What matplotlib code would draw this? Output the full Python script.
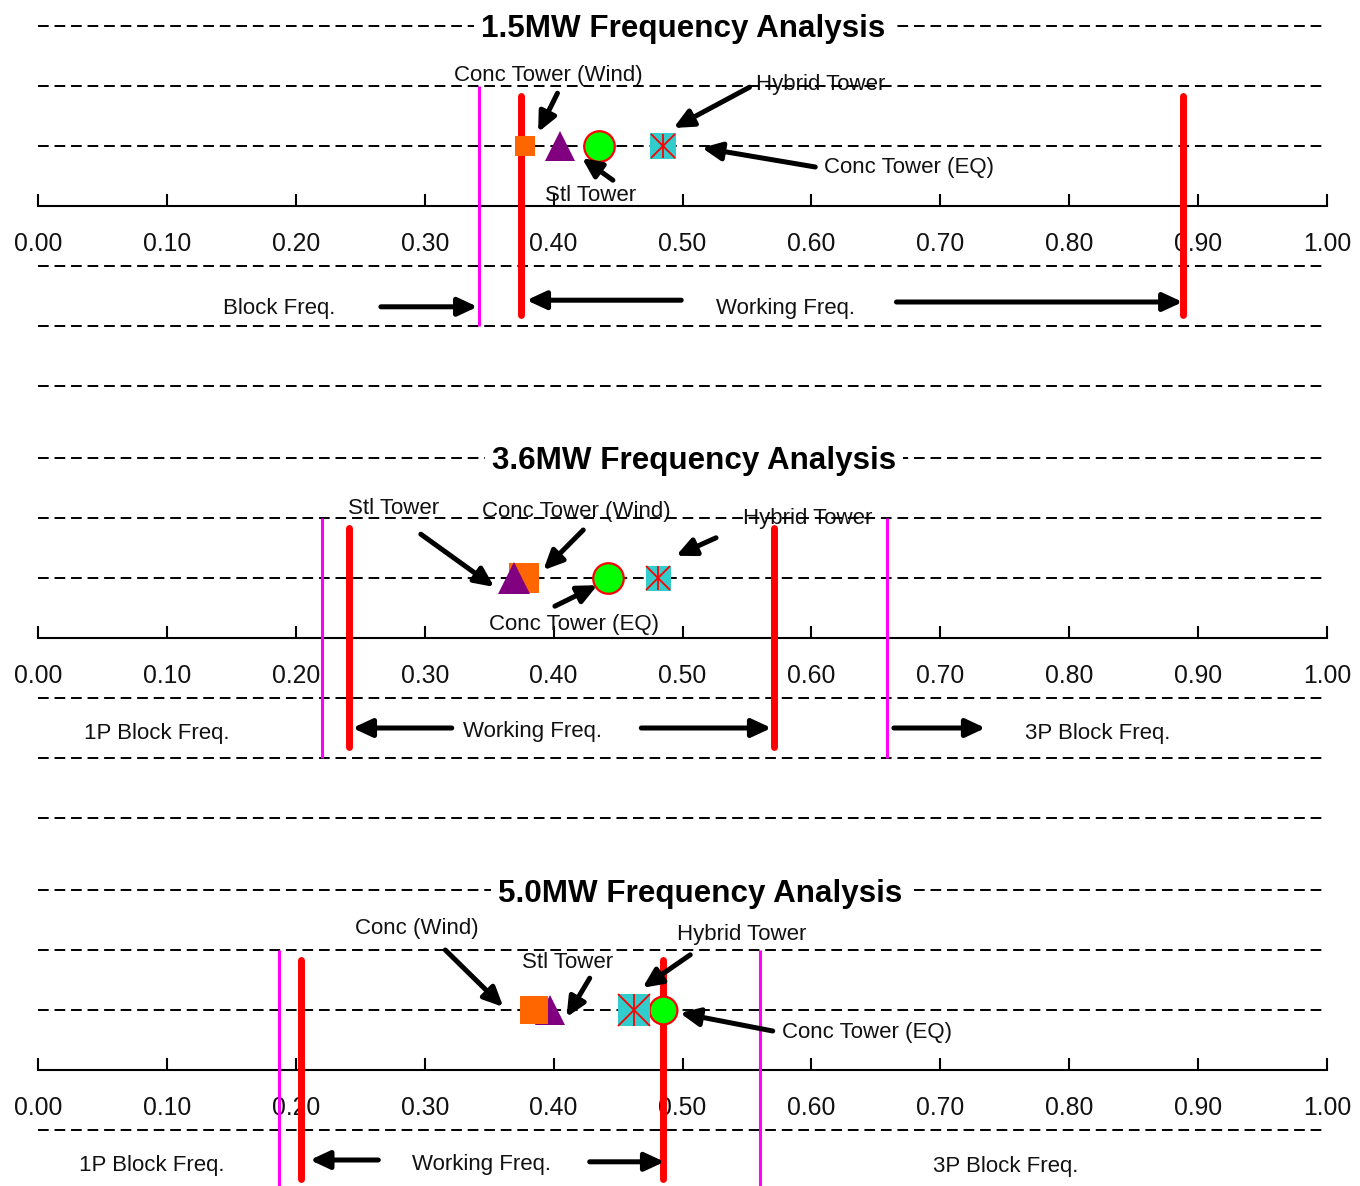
import matplotlib
matplotlib.use('Agg')
import matplotlib.pyplot as plt
import numpy as np
from matplotlib.patches import ArrowStyle

FONT = 'Liberation Sans'
FS_LAB, FS_TICK, FS_TITLE = 16, 17.8, 22.6

# ---- data ----
titles = ['1.5MW Frequency Analysis', '3.6MW Frequency Analysis', '5.0MW Frequency Analysis']
towers = ['Conc Tower (Wind)', 'Stl Tower', 'Conc Tower (EQ)', 'Hybrid Tower']

tower_freq_15 = [0.378, 0.405, 0.435, 0.485]
tower_freq_36 = [0.377, 0.369, 0.442, 0.481]
tower_freq_50 = [0.385, 0.397, 0.485, 0.462]

working_15 = [0.375, 0.888]
working_36 = [0.241, 0.571]
working_50 = [0.204, 0.485]

block_15 = [0.342]
block_36 = [0.220, 0.659]
block_50 = [0.187, 0.560]

ticks = np.arange(0, 1.001, 0.1)

# ---- layout (x in frequency units, y in rows of 60 px around the number line) ----
X0, X1 = -38 / 1289, 1322 / 1289
FIG_H = 1186
AXIS_PX = [206, 638, 1070]
ROW = 60.0

# marker sizes (pt) and draw order per panel, in towers order
sizes = [[14.5, 22, 22, 18.5], [21.5, 22.5, 22, 18], [20, 22, 20, 23.5]]
zorders = [[5, 5, 5, 5], [5, 6, 5, 5], [6, 5, 5, 7]]
title_x = [0.5005, 0.509, 0.5135]

notes = [
    [('Conc Tower (Wind)', 0.396, 2.22), ('Hybrid Tower', 0.607, 2.07), ('Stl Tower', 0.429, 0.22),
     ('Conc Tower (EQ)', 0.676, 0.68), ('Block Freq.', 0.187, -1.67), ('Working Freq.', 0.580, -1.67)],
    [('Stl Tower', 0.276, 2.2), ('Conc Tower (Wind)', 0.418, 2.15), ('Hybrid Tower', 0.597, 2.03),
     ('Conc Tower (EQ)', 0.416, 0.27), ('1P Block Freq.', 0.092, -1.55), ('Working Freq.', 0.384, -1.52),
     ('3P Block Freq.', 0.822, -1.55)],
    [('Conc (Wind)', 0.294, 2.4), ('Stl Tower', 0.411, 1.83), ('Hybrid Tower', 0.546, 2.3),
     ('Conc Tower (EQ)', 0.643, 0.67), ('1P Block Freq.', 0.088, -1.55), ('Working Freq.', 0.344, -1.53),
     ('3P Block Freq.', 0.751, -1.57)],
]

arrows = [
    [((0.403, 1.88), (0.388, 1.23)), ((0.552, 1.98), (0.493, 1.30)), ((0.446, 0.43), (0.422, 0.80)),
     ((0.603, 0.65), (0.515, 0.97)), ((0.266, -1.68), (0.341, -1.68)), ((0.499, -1.57), (0.379, -1.57)),
     ((0.666, -1.60), (0.888, -1.60))],
    [((0.297, 1.73), (0.354, 0.85)), ((0.423, 1.80), (0.392, 1.13)), ((0.526, 1.67), (0.495, 1.37)),
     ((0.401, 0.53), (0.434, 0.88)), ((0.321, -1.5), (0.244, -1.5)), ((0.468, -1.5), (0.569, -1.5)),
     ((0.664, -1.5), (0.735, -1.5))],
    [((0.316, 2.0), (0.361, 1.05)), ((0.428, 1.53), (0.410, 0.88)), ((0.506, 1.92), (0.469, 1.37)),
     ((0.570, 0.65), (0.498, 0.95)), ((0.264, -1.5), (0.211, -1.5)), ((0.428, -1.53), (0.486, -1.53))],
]

ARROW = ArrowStyle('-|>', head_length=0.58, head_width=0.27)


def draw_tower(ax, name, f, ms, z):
    if name == 'Conc Tower (Wind)':
        ax.plot(f, 1, 's', ms=ms, color='#FF6600', mew=0, zorder=z)
    elif name == 'Stl Tower':
        ax.plot(f, 1, '^', ms=ms, color='#800080', mew=0, zorder=z)
    elif name == 'Conc Tower (EQ)':
        ax.plot(f, 1, 'o', ms=ms, mfc='#00FF00', mec='red', mew=1.6, zorder=z)
    else:
        ax.plot(f, 1, 's', ms=ms, color='#33CCCC', mew=0, zorder=z)
        ax.plot(f, 1, 'x', ms=ms * 0.95, color='red', mew=1.3, zorder=z + 0.1)
        ax.plot(f, 1, '|', ms=ms * 0.95, color='red', mew=1.3, zorder=z + 0.1)


def draw_panel(ax, i, freqs, working, block):
    ax.set_xlim(X0, X1)
    ax.set_ylim(-3.6, 3.6)
    ax.patch.set_alpha(0)
    for s in ['top', 'left', 'right']:
        ax.spines[s].set_visible(False)
    sp = ax.spines['bottom']
    sp.set_position(('data', 0))
    sp.set_bounds(0, 1)
    sp.set_linewidth(1.5)
    ax.set_xticks(ticks)
    ax.set_xticklabels(['%.2f' % t for t in ticks], fontfamily=FONT, fontsize=FS_TICK, color='#111111')
    ax.tick_params(axis='x', direction='in', length=9, width=1.5, pad=19)
    ax.set_yticks([])

    ax.hlines([3, 2, 1, -1, -2, -3], 0, 1, colors='k', lw=1.4, linestyles=(0, (5.5, 3)), zorder=2.5)
    ax.vlines(block, -2, 2, colors='#FF00FF', lw=2.2, zorder=3)
    for w in working:
        ax.plot([w, w], [-1.82, 1.84], color='red', lw=5, solid_capstyle='round', zorder=3.5)

    for name, f, ms, z in zip(towers, freqs, sizes[i], zorders[i]):
        draw_tower(ax, name, f, ms, z)

    ax.text(title_x[i], 3, titles[i], ha='center', va='center_baseline', fontsize=FS_TITLE,
            fontweight='bold', family=FONT, zorder=8,
            bbox=dict(fc='white', ec='none', pad=5))
    for txt, x, y in notes[i]:
        ax.text(x, y, txt, ha='center', va='center_baseline', fontsize=FS_LAB,
                family=FONT, color='#111111', zorder=2)
    for tail, head in arrows[i]:
        ax.annotate('', xy=head, xytext=tail,
                    arrowprops=dict(arrowstyle=ARROW, mutation_scale=20, lw=3.6, color='k',
                                    shrinkA=0, shrinkB=0), zorder=7)


fig = plt.figure(figsize=(13.6, 11.86), dpi=100)
all_freqs = [tower_freq_15, tower_freq_36, tower_freq_50]
all_working = [working_15, working_36, working_50]
all_block = [block_15, block_36, block_50]
for i in range(3):
    h = 7.2 * ROW
    bottom = 1 - (AXIS_PX[i] + h / 2) / FIG_H
    ax = fig.add_axes([0, bottom, 1, h / FIG_H])
    draw_panel(ax, i, all_freqs[i], all_working[i], all_block[i])

fig.savefig('out.png', dpi=100)
